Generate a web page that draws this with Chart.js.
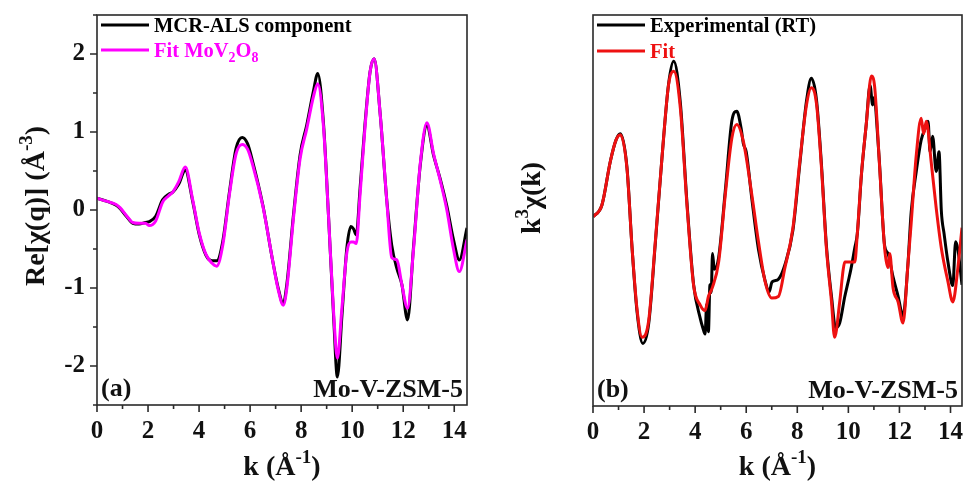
<!DOCTYPE html>
<html lang="en">
<head>
    <meta charset="UTF-8">
    <title>Mo-V-ZSM-5 EXAFS</title>
    <script src="https://cdn.jsdelivr.net/npm/chart.js"></script>
    <style>
        body {
            margin: 0;
            background: #fff;
        }
        .panel {
            position: absolute;
            top: 0;
        }
    </style>
</head>
<body>
    <div class="panel" style="left:0px"><canvas id="chartA" width="480" height="481"></canvas></div>
    <div class="panel" style="left:483px"><canvas id="chartB" width="480" height="481"></canvas></div>

    <script>
        // (a) Re[chi(q)] : MCR-ALS component vs MoV2O8 fit
        const kA = [0, 0.4, 0.75, 0.9, 1.15, 1.4, 1.65, 1.9, 2.05, 2.3,
            2.57, 2.8, 2.97, 3.2, 3.46, 3.75, 4.01, 4.27, 4.5, 4.69,
            4.93, 5.19, 5.45, 5.69, 5.9, 6.1, 6.5, 6.89, 7.1, 7.3,
            7.44, 7.7, 7.96, 8.22, 8.48, 8.65, 8.88, 9.07, 9.27, 9.42,
            9.6, 9.79, 9.95, 10.05, 10.16, 10.31, 10.5, 10.7, 10.86, 11.1,
            11.36, 11.55, 11.75, 11.95, 12.17, 12.4, 12.67, 12.93, 13.19, 13.45,
            13.71, 13.97, 14.2, 14.5];
        const mcrComponent = [0.15, 0.11, 0.06, 0.02, -0.08, -0.17, -0.18, -0.16, -0.15, -0.08,
            0.13, 0.2, 0.23, 0.33, 0.51, 0.11, -0.32, -0.58, -0.65, -0.65,
            -0.4, 0.23, 0.79, 0.93, 0.85, 0.62, 0.06, -0.66, -1.0, -1.2,
            -0.95, -0.06, 0.71, 1.09, 1.52, 1.75, 1.09, -0.06, -1.35, -2.14,
            -1.35, -0.49, -0.21, -0.24, -0.32, 0.28, 1.09, 1.77, 1.94, 1.22,
            0.11, -0.45, -0.75, -0.96, -1.41, -0.49, 0.58, 1.08, 0.7, 0.4,
            0.05, -0.38, -0.64, -0.23];
        const fitMoV2O8 = [0.15, 0.11, 0.07, 0.03, -0.07, -0.16, -0.17, -0.17, -0.2, -0.14,
            0.1, 0.18, 0.23, 0.36, 0.55, 0.13, -0.3, -0.57, -0.68, -0.72,
            -0.45, 0.2, 0.72, 0.84, 0.78, 0.58, 0.05, -0.66, -1.02, -1.22,
            -1.0, -0.1, 0.66, 1.04, 1.45, 1.62, 1.05, -0.06, -1.3, -1.9,
            -1.25, -0.55, -0.41, -0.41, -0.43, 0.2, 1.05, 1.77, 1.94, 1.22,
            0.1, -0.61, -0.64, -0.96, -1.26, -0.52, 0.6, 1.12, 0.72, 0.38,
            0.0, -0.5, -0.79, -0.38];

        // (b) k^3 chi(k) : experimental (RT) vs fit
        const kExp = [0, 0.35, 0.68, 0.9, 1.07, 1.33, 1.53, 1.72, 1.95, 2.18,
            2.44, 2.7, 2.96, 3.16, 3.42, 3.68, 3.94, 4.2, 4.3, 4.39,
            4.45, 4.52, 4.58, 4.63, 4.68, 4.75, 4.92, 5.18, 5.44, 5.63,
            5.8, 5.89, 6.0, 6.22, 6.48, 6.74, 6.9, 7.0, 7.1, 7.26,
            7.51, 7.83, 8.1, 8.36, 8.55, 8.75, 8.94, 9.14, 9.34, 9.5,
            9.66, 9.86, 10.0, 10.1, 10.25, 10.35, 10.51, 10.7, 10.85, 10.95,
            11.03, 11.08, 11.22, 11.42, 11.55, 11.75, 11.95, 12.14, 12.33, 12.46,
            12.66, 12.85, 13.05, 13.12, 13.2, 13.3, 13.44, 13.55, 13.64, 13.75,
            13.9, 14.09, 14.2, 14.29, 14.45];
        const experimentalRT = [-0.08, 0.07, 0.63, 0.9, 0.98, 0.55, -0.48, -1.28, -1.70, -1.45,
            -0.42, 0.67, 1.62, 1.91, 1.38, 0.1, -0.95, -1.38, -1.5, -1.58,
            -1.2, -1.55, -0.95, -1.05, -0.55, -0.75, -0.6, 0.25, 1.15, 1.27,
            1.05, 0.85, 0.75, 0.15, -0.5, -0.9, -1.04, -0.92, -0.9, -0.88,
            -0.7, -0.25, 0.6, 1.4, 1.69, 1.42, 0.62, -0.45, -1.1, -1.5,
            -1.44, -1.1, -0.9, -0.75, -0.48, -0.3, 0.45, 1.1, 1.6, 1.35,
            1.45, 1.27, 0.6, -0.45, -0.55, -0.85, -1.1, -1.35, -0.7, -0.02,
            0.5, 0.9, 1.08, 1.14, 0.75, 0.95, 0.5, 0.75, 0.0, -0.3,
            -0.66, -0.96, -0.4, -0.5, -0.95];
        const kFit = [0, 0.35, 0.68, 0.9, 1.07, 1.33, 1.53, 1.72, 1.92, 2.18,
            2.44, 2.7, 2.96, 3.16, 3.42, 3.68, 3.94, 4.2, 4.39, 4.52,
            4.68, 4.92, 5.18, 5.44, 5.63, 5.89, 6.22, 6.48, 6.74, 7.0,
            7.26, 7.51, 7.83, 8.1, 8.36, 8.55, 8.75, 8.94, 9.14, 9.34,
            9.46, 9.66, 9.8, 9.86, 10.25, 10.35, 10.51, 10.7, 10.9, 11.03,
            11.22, 11.42, 11.55, 11.62, 11.75, 11.95, 12.14, 12.33, 12.46, 12.66,
            12.85, 12.95, 13.05, 13.25, 13.44, 13.64, 13.9, 14.09, 14.29, 14.45];
        const fitRT = [-0.08, 0.07, 0.63, 0.9, 0.97, 0.54, -0.48, -1.25, -1.62, -1.41,
            -0.4, 0.67, 1.61, 1.78, 1.31, 0.07, -0.96, -1.21, -1.28, -1.1,
            -0.98, -0.66, 0.2, 0.93, 1.1, 0.88, 0.2, -0.4, -0.91, -1.12,
            -1.1, -0.74, -0.22, 0.63, 1.35, 1.57, 1.37, 0.58, -0.48, -1.17,
            -1.62, -1.17, -0.75, -0.66, -0.66, -0.3, 0.46, 1.1, 1.72, 1.58,
            0.58, -0.48, -0.73, -0.55, -0.99, -1.17, -1.44, -0.7, -0.16, 0.71,
            1.18, 0.98, 1.14, 0.6, 0.03, -0.48, -0.91, -1.17, -0.73, -0.22];

        const xTickValues = [0, 1, 2, 3, 4, 5, 6, 7, 8, 9, 10, 11, 12, 13, 14];
        const xTicksMajor = [0, 2, 4, 6, 8, 10, 12, 14];
        const yTickValues = [-2.5, -2, -1.5, -1, -0.5, 0, 0.5, 1, 1.5, 2, 2.5];
        const yTicksMajor = [-2, -1, 0, 1, 2];

        const SERIF = "'Liberation Serif', 'Times New Roman', serif";
        Chart.defaults.font.family = SERIF;
        Chart.defaults.font.weight = "bold";
        Chart.defaults.color = "#111";

        const toPoints = (xs, ys) => xs.map((x, i) => ({ x: x, y: ys[i] }));

        // text with super/subscript pieces, e.g. [["k (Å"], ["-1", "sup"], [")"]]
        function richWidth(ctx, parts, size) {
            let w = 0;
            parts.forEach(p => {
                const s = p[1] ? size * 0.68 : size;
                ctx.font = "bold " + s + "px " + SERIF;
                w += ctx.measureText(p[0]).width;
            });
            return w;
        }
        function drawRich(ctx, parts, x, y, size, color, align) {
            ctx.save();
            ctx.fillStyle = color;
            ctx.textBaseline = "alphabetic";
            ctx.textAlign = "left";
            let cx = x;
            if (align === "center") cx -= richWidth(ctx, parts, size) / 2;
            if (align === "right") cx -= richWidth(ctx, parts, size);
            parts.forEach(p => {
                const s = p[1] ? size * 0.68 : size;
                let dy = 0;
                if (p[1] === "sup") dy = -size * 0.42;
                if (p[1] === "sub") dy = size * 0.24;
                ctx.font = "bold " + s + "px " + SERIF;
                ctx.fillText(p[0], cx, y + dy);
                cx += ctx.measureText(p[0]).width;
            });
            ctx.restore();
        }

        // frame, tick marks, legend, labels and axis titles
        const decor = {
            id: "decor",
            afterDraw(chart, args, o) {
                const ctx = chart.ctx;
                const a = chart.chartArea;
                const xs = chart.scales.x, ys = chart.scales.y;
                ctx.save();
                ctx.strokeStyle = "#2a2a2a";
                ctx.lineWidth = 1.6;
                ctx.strokeRect(a.left, a.top, a.right - a.left, a.bottom - a.top);

                ctx.beginPath();
                xTickValues.forEach(v => {
                    const px = xs.getPixelForValue(v);
                    const len = xTicksMajor.includes(v) ? 7 : 4;
                    ctx.moveTo(px, a.bottom);
                    ctx.lineTo(px, a.bottom + len);
                });
                if (o.yTicks) {
                    yTickValues.forEach(v => {
                        const py = ys.getPixelForValue(v);
                        const len = yTicksMajor.includes(v) ? 7 : 4;
                        ctx.moveTo(a.left, py);
                        ctx.lineTo(a.left - len, py);
                    });
                }
                ctx.stroke();

                // legend
                chart.data.datasets.forEach((ds, i) => {
                    const ly = o.legendY[i];
                    ctx.strokeStyle = ds.borderColor;
                    ctx.lineWidth = 3;
                    ctx.beginPath();
                    ctx.moveTo(a.left + 4, ly);
                    ctx.lineTo(a.left + 52, ly);
                    ctx.stroke();
                    drawRich(ctx, ds.richLabel, a.left + 57, ly + 7, 20.5, ds.borderColor, "left");
                });

                drawRich(ctx, [[o.tag]], a.left + 4, a.bottom - 9, 26, "#111", "left");
                drawRich(ctx, [["Mo-V-ZSM-5"]], a.right - 4, a.bottom - 8, 26, "#111", "right");

                drawRich(ctx, [["k (Å"], ["-1", "sup"], [")"]], (a.left + a.right) / 2, 475, 28, "#111", "center");

                ctx.translate(o.yTitleX, o.yTitleY);
                ctx.rotate(-Math.PI / 2);
                drawRich(ctx, o.yTitle, 0, 0, 28, "#111", "center");
                ctx.restore();
            }
        };

        const noScalePadding = s => {
            s.paddingLeft = 0;
            s.paddingRight = 0;
            s.paddingTop = 0;
            s.paddingBottom = 0;
        };

        function makePanel(id, cfg) {
            return new Chart(document.getElementById(id), {
                type: "line",
                data: { datasets: cfg.datasets },
                options: {
                    responsive: false,
                    animation: false,
                    layout: { padding: { top: 15, right: cfg.padRight, left: 0, bottom: 0 } },
                    elements: {
                        point: { radius: 0 },
                        line: { borderWidth: 3, cubicInterpolationMode: "monotone" }
                    },
                    scales: {
                        x: {
                            type: "linear",
                            min: 0,
                            max: cfg.xMax,
                            grid: { display: false, drawTicks: false },
                            border: { display: false },
                            afterBuildTicks: s => { s.ticks = xTicksMajor.map(v => ({ value: v })); },
                            afterFit: s => { s.height = cfg.xAxisHeight; noScalePadding(s); },
                            ticks: {
                                autoSkip: false,
                                maxRotation: 0,
                                padding: 12,
                                color: "#111",
                                font: { size: 25, weight: "bold" }
                            }
                        },
                        y: {
                            min: -2.5,
                            max: 2.5,
                            grid: { display: false, drawTicks: false },
                            border: { display: false },
                            afterBuildTicks: s => { s.ticks = yTicksMajor.map(v => ({ value: v })); },
                            afterFit: s => { s.width = cfg.yAxisWidth; noScalePadding(s); },
                            ticks: {
                                display: cfg.yTicks,
                                autoSkip: false,
                                padding: 12,
                                color: "#111",
                                font: { size: 25, weight: "bold" }
                            }
                        }
                    },
                    plugins: {
                        legend: { display: false },
                        tooltip: { enabled: false },
                        decor: {
                            yTicks: cfg.yTicks,
                            legendY: cfg.legendY,
                            tag: cfg.tag,
                            yTitle: cfg.yTitle,
                            yTitleX: cfg.yTitleX,
                            yTitleY: cfg.yTitleY
                        }
                    }
                },
                plugins: [decor]
            });
        }

        makePanel("chartA", {
            xMax: 14.5,
            padRight: 13,
            xAxisHeight: 76,
            yAxisWidth: 97,
            yTicks: true,
            legendY: [25, 50],
            tag: "(a)",
            yTitle: [["Re[χ(q)] (Å"], ["-3", "sup"], [")"]],
            yTitleX: 44,
            yTitleY: 206,
            datasets: [
                {
                    label: "MCR-ALS component",
                    richLabel: [["MCR-ALS component"]],
                    data: toPoints(kA, mcrComponent),
                    borderColor: "#000000",
                    order: 1
                },
                {
                    label: "Fit MoV2O8",
                    richLabel: [["Fit MoV"], ["2", "sub"], ["O"], ["8", "sub"]],
                    data: toPoints(kA, fitMoV2O8),
                    borderColor: "#ff00ff",
                    order: 0
                }
            ]
        });

        makePanel("chartB", {
            xMax: 14.45,
            padRight: 1,
            xAxisHeight: 75,
            yAxisWidth: 110,
            yTicks: false,
            legendY: [25, 51],
            tag: "(b)",
            yTitle: [["k"], ["3", "sup"], ["χ(k)"]],
            yTitleX: 540 - 483,
            yTitleY: 198,
            datasets: [
                {
                    label: "Experimental (RT)",
                    richLabel: [["Experimental (RT)"]],
                    data: toPoints(kExp, experimentalRT),
                    borderColor: "#000000",
                    order: 1
                },
                {
                    label: "Fit",
                    richLabel: [["Fit"]],
                    data: toPoints(kFit, fitRT),
                    borderColor: "#ee1111",
                    order: 0
                }
            ]
        });
    </script>
</body>
</html>
